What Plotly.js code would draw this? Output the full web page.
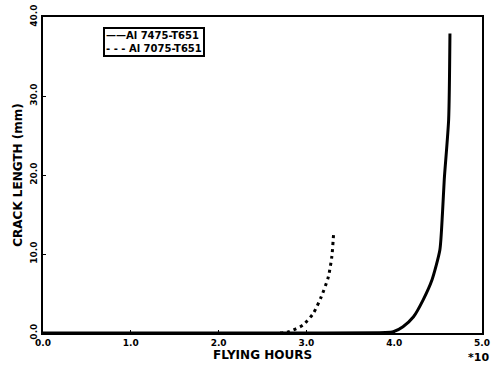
<!DOCTYPE html>
<html>
<head>
<meta charset="utf-8">
<script src="https://cdn.plot.ly/plotly-3.0.1.min.js"></script>
<style>html,body{margin:0;padding:0;background:#fff}#chart{width:491px;height:369px}</style>
</head>
<body>
<div id="chart"></div>
<script>
// Flying hours (x 10^4) and crack length (mm)
const hours7475 = [0.0, 3.0, 3.9, 3.99, 4.10, 4.22, 4.33, 4.43, 4.52, 4.55, 4.57, 4.62, 4.635];
const crack7475 = [0.0, 0.0, 0.05, 0.16, 0.8, 2.06, 4.2, 6.7, 10.5, 15.2, 19.4, 27.0, 37.9];
const hours7075 = [2.70, 2.78, 2.85, 2.96, 3.08, 3.17, 3.25, 3.29, 3.31];
const crack7075 = [0.0, 0.1, 0.38, 1.0, 2.5, 4.6, 7.1, 9.7, 12.6];
const seriesNames = ["Al 7475-T651", "Al 7075-T651"];
const legendMarks = ["——", "- - - "];
const xTicks = [0, 1, 2, 3, 4, 5];
const xTickText = ["0.0", "1.0", "2.0", "3.0", "4.0", "5.0"];
const yTicks = [0, 10, 20, 30, 40];
const yTickText = ["0.0", "10.0", "20.0", "30.0", "40.0"];

const FONT = "DejaVu Sans, Verdana, sans-serif";
const traces = [
  {x: hours7475, y: crack7475, name: seriesNames[0], mode: "lines", showlegend: false,
   line: {color: "#000", width: 3, shape: "spline", smoothing: 0.6}},
  {x: hours7075, y: crack7075, name: seriesNames[1], mode: "lines", showlegend: false,
   line: {color: "#000", width: 3, dash: "3px,4px", shape: "spline", smoothing: 0.6}}
];
const axisCommon = {
  showgrid: false, zeroline: false, showline: true, mirror: true,
  linecolor: "#000", linewidth: 2, ticks: "inside", ticklen: 3, tickwidth: 1, tickcolor: "#000",
  tickfont: {family: FONT, size: 9, color: "#000", weight: "bold"}, tickmode: "array"
};
const legendText = seriesNames.map((n, i) => legendMarks[i] + n).join("<br>");
const layout = {
  width: 491, height: 369,
  margin: {l: 43, r: 9, t: 17, b: 36},
  paper_bgcolor: "#fff", plot_bgcolor: "#fff",
  showlegend: false,
  xaxis: Object.assign({}, axisCommon, {range: [0, 5], tickvals: xTicks, ticktext: xTickText,
    title: {text: "FLYING HOURS", font: {family: FONT, size: 12, color: "#000", weight: "bold"}, standoff: 3}}),
  yaxis: Object.assign({}, axisCommon, {range: [0, 40], tickvals: yTicks, ticktext: yTickText, tickangle: -90,
    title: {text: "CRACK LENGTH (mm)", font: {family: FONT, size: 12, color: "#000", weight: "bold"}, standoff: 4}}),
  annotations: [
    {text: "*10", xref: "paper", yref: "paper", x: 1.0205, y: -0.076, xanchor: "right", yanchor: "middle",
     showarrow: false, font: {family: FONT, size: 11, color: "#000", weight: "bold"}},
    {text: legendText, xref: "paper", yref: "paper", x: 0.137, y: 0.968, xanchor: "left", yanchor: "top",
     align: "left", showarrow: false, bordercolor: "#000", borderwidth: 2, borderpad: 1, bgcolor: "#fff",
     font: {family: FONT, size: 10, color: "#000", weight: "bold"}}
  ]
};
Plotly.newPlot("chart", traces, layout, {displayModeBar: false, staticPlot: true});
</script>
</body>
</html>
